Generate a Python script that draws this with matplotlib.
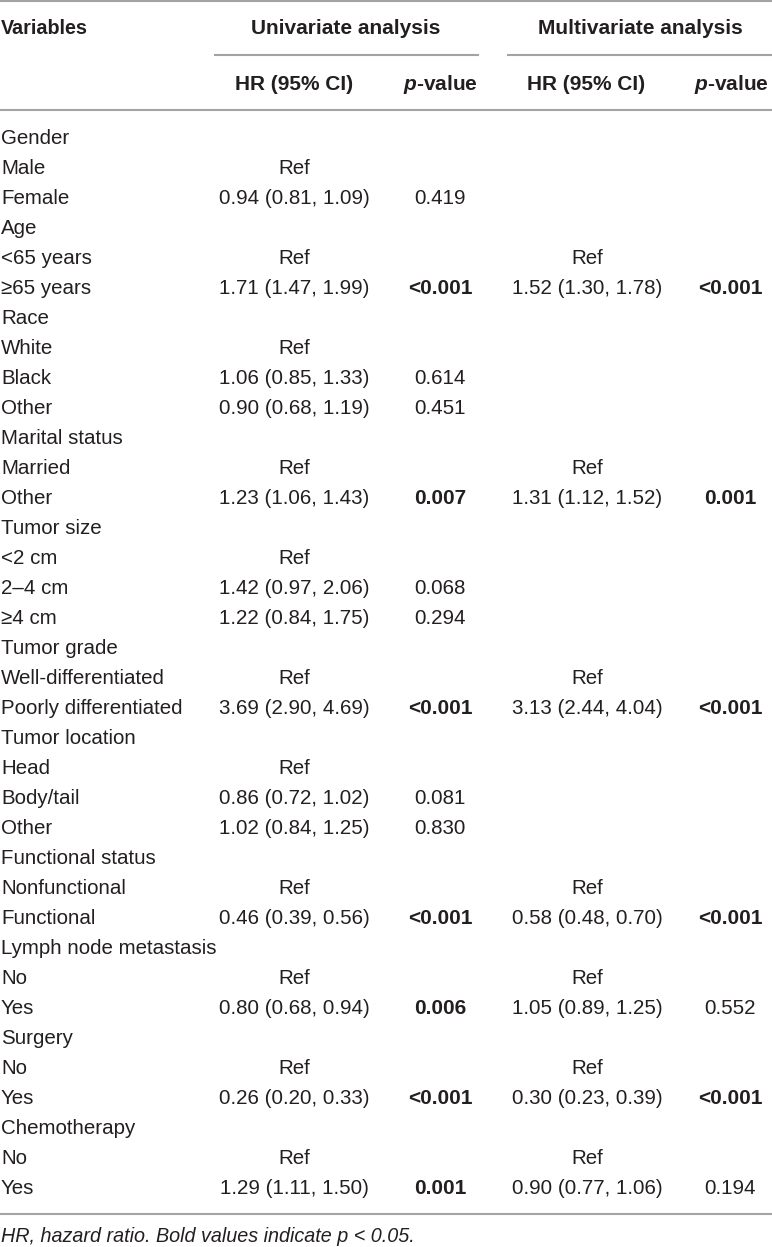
import matplotlib
matplotlib.use("Agg")
import matplotlib.pyplot as plt

plt.rcParams.update({
    "font.family": ["Liberation Sans", "DejaVu Sans"],
    "mathtext.fontset": "custom",
    "mathtext.it": "Liberation Sans:italic:bold",
    "mathtext.rm": "Liberation Sans:bold",
})

# ── table content ──
variables = [
    "Gender", "Male", "Female",
    "Age", "<65 years", "≥65 years",
    "Race", "White", "Black", "Other",
    "Marital status", "Married", "Other",
    "Tumor size", "<2 cm", "2–4 cm", "≥4 cm",
    "Tumor grade", "Well-differentiated", "Poorly differentiated",
    "Tumor location", "Head", "Body/tail", "Other",
    "Functional status", "Nonfunctional", "Functional",
    "Lymph node metastasis", "No", "Yes",
    "Surgery", "No", "Yes",
    "Chemotherapy", "No", "Yes",
]
uni_hr = [
    "", "Ref", "0.94 (0.81, 1.09)",
    "", "Ref", "1.71 (1.47, 1.99)",
    "", "Ref", "1.06 (0.85, 1.33)", "0.90 (0.68, 1.19)",
    "", "Ref", "1.23 (1.06, 1.43)",
    "", "Ref", "1.42 (0.97, 2.06)", "1.22 (0.84, 1.75)",
    "", "Ref", "3.69 (2.90, 4.69)",
    "", "Ref", "0.86 (0.72, 1.02)", "1.02 (0.84, 1.25)",
    "", "Ref", "0.46 (0.39, 0.56)",
    "", "Ref", "0.80 (0.68, 0.94)",
    "", "Ref", "0.26 (0.20, 0.33)",
    "", "Ref", "1.29 (1.11, 1.50)",
]
uni_p = [
    "", "", "0.419",
    "", "", "<0.001",
    "", "", "0.614", "0.451",
    "", "", "0.007",
    "", "", "0.068", "0.294",
    "", "", "<0.001",
    "", "", "0.081", "0.830",
    "", "", "<0.001",
    "", "", "0.006",
    "", "", "<0.001",
    "", "", "0.001",
]
multi_hr = [
    "", "", "",
    "", "Ref", "1.52 (1.30, 1.78)",
    "", "", "", "",
    "", "Ref", "1.31 (1.12, 1.52)",
    "", "", "", "",
    "", "Ref", "3.13 (2.44, 4.04)",
    "", "", "", "",
    "", "Ref", "0.58 (0.48, 0.70)",
    "", "Ref", "1.05 (0.89, 1.25)",
    "", "Ref", "0.30 (0.23, 0.39)",
    "", "Ref", "0.90 (0.77, 1.06)",
]
multi_p = [
    "", "", "",
    "", "", "<0.001",
    "", "", "", "",
    "", "", "0.001",
    "", "", "", "",
    "", "", "<0.001",
    "", "", "", "",
    "", "", "<0.001",
    "", "", "0.552",
    "", "", "<0.001",
    "", "", "0.194",
]
footnote = "HR, hazard ratio. Bold values indicate p < 0.05."

TXT = "#231f20"
RULE = "#a3a3a3"
FS = 14.8      # body text
FS_B = 15.0    # bold headers / significant p-values
FS_NOTE = 14.2


def is_sig(p):
    if not p:
        return False
    if p.startswith("<"):
        return True
    return float(p) < 0.05


W, H = 772, 1247
fig = plt.figure(figsize=(W / 100, H / 100), dpi=100)
ax = fig.add_axes([0, 0, 1, 1])
ax.set_xlim(0, W)
ax.set_ylim(H, 0)
ax.axis("off")

# column centres (px)
x_var = 1
x_uhr, x_up, x_mhr, x_mp = 294, 440, 587, 730

# header
ax.axhline(1, color=RULE, lw=1.5)
ax.text(x_var, 28, "Variables", fontsize=14.2, fontweight="bold", color=TXT,
        ha="left", va="center")
ax.text(346, 28, "Univariate analysis", fontsize=FS_B, fontweight="bold",
        color=TXT, ha="center", va="center")
ax.text(640, 28, "Multivariate analysis", fontsize=FS_B, fontweight="bold",
        color=TXT, ha="center", va="center")
ax.plot([215, 478], [55, 55], color=RULE, lw=1.5)
ax.plot([508, 772], [55, 55], color=RULE, lw=1.5)
for xc, lab in [(294, "HR (95% CI)"), (440, r"$\mathit{p}$-value"),
                (586, "HR (95% CI)"), (731, r"$\mathit{p}$-value")]:
    ax.text(xc, 84, lab, fontsize=FS_B, fontweight="bold", color=TXT,
            ha="center", va="center")
ax.plot([0, W], [110, 110], color=RULE, lw=1.5)

# body
y0, dy = 139, 30
for i, var in enumerate(variables):
    y = y0 + i * dy
    ax.text(x_var, y, var, fontsize=FS, color=TXT, ha="left", va="center")
    ax.text(x_uhr, y, uni_hr[i], fontsize=FS, color=TXT, ha="center", va="center")
    sig = is_sig(uni_p[i])
    ax.text(x_up, y, uni_p[i], fontsize=FS_B if sig else FS, color=TXT,
            ha="center", va="center", fontweight="bold" if sig else "normal")
    ax.text(x_mhr, y, multi_hr[i], fontsize=FS, color=TXT, ha="center", va="center")
    sig = is_sig(multi_p[i])
    ax.text(x_mp, y, multi_p[i], fontsize=FS_B if sig else FS, color=TXT,
            ha="center", va="center", fontweight="bold" if sig else "normal")

y_end = y0 + (len(variables) - 1) * dy + 25
ax.plot([0, W], [y_end, y_end], color=RULE, lw=1.5)
ax.text(x_var, y_end + 23, footnote, fontsize=FS_NOTE, style="italic", color=TXT,
        ha="left", va="center")

fig.savefig("out.png", dpi=100, facecolor="white")
